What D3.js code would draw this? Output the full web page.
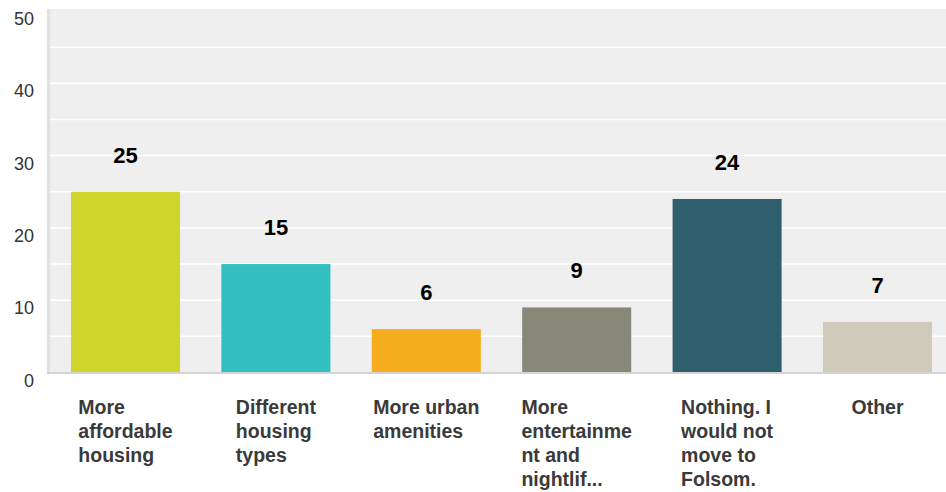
<!DOCTYPE html>
<html><head><meta charset="utf-8">
<script src="https://cdn.jsdelivr.net/npm/d3@7"></script>
<style>body{margin:0;background:#fff}svg{display:block}</style>
</head><body>
<svg id="c" width="946" height="492"></svg>
<script>
const categories = [
  ["More", "affordable", "housing"],
  ["Different", "housing", "types"],
  ["More urban", "amenities"],
  ["More", "entertainme", "nt and", "nightlif..."],
  ["Nothing. I", "would not", "move to", "Folsom."],
  ["Other"]
];
const values = [25, 15, 6, 9, 24, 7];
const colors = ["#cfd52b", "#33bec0", "#f6ae1f", "#87887a", "#2f5f6d", "#cecbbb"];
const yTicks = [0, 10, 20, 30, 40, 50];
const gridTicks = [5, 10, 15, 20, 25, 30, 35, 40, 45];

(function () {
const svg = d3.select("#c");
const pL = 50, pR = 946, pT = 9, pB = 372.5;
const x = d3.scaleBand().domain(d3.range(values.length)).range([50.3, 952.7]).paddingInner(0.275).paddingOuter(0.1375);
const y = d3.scaleLinear().domain([0, 50]).range([pB, 11]);

svg.append("rect").attr("x", pL).attr("y", pT).attr("width", pR - pL).attr("height", pB - pT).attr("fill", "#efefef");
svg.append("rect").attr("x", 47).attr("y", pT).attr("width", 3).attr("height", pB - pT + 2).attr("fill", "#e0e0e0");

svg.append("g").selectAll("line").data(gridTicks).join("line")
  .attr("x1", pL).attr("x2", pR).attr("y1", d => y(d)).attr("y2", d => y(d))
  .attr("stroke", "#fff").attr("stroke-width", 1.5);

svg.append("g").selectAll("text").data(yTicks).join("text")
  .attr("x", 34).attr("y", d => y(d) + 14).attr("text-anchor", "end")
  .attr("font-family", "Liberation Sans, Arial, sans-serif").attr("font-size", 18).attr("fill", "#333")
  .text(d => d);

svg.append("g").selectAll("rect").data(values).join("rect")
  .attr("x", (d, i) => x(i)).attr("width", x.bandwidth())
  .attr("y", d => y(d)).attr("height", d => y(0) - y(d))
  .attr("fill", (d, i) => colors[i]);

svg.append("line").attr("x1", 47).attr("x2", pR).attr("y1", pB + 0.5).attr("y2", pB + 0.5).attr("stroke", "#d4d4d4").attr("stroke-width", 2);

svg.append("g").selectAll("text").data(values).join("text")
  .attr("x", (d, i) => x(i) + x.bandwidth() / 2).attr("y", d => y(d) - 29)
  .attr("text-anchor", "middle").attr("font-family", "Liberation Sans, Arial, sans-serif")
  .attr("font-size", 22).attr("font-weight", "bold").attr("fill", "#000").text(d => d);

categories.forEach((lines, i) => {
  const t = svg.append("text").attr("font-family", "Liberation Sans, Arial, sans-serif")
    .attr("font-size", 19.5).attr("font-weight", "bold").attr("fill", "#3a3a3a");
  lines.forEach((l, j) => t.append("tspan").attr("y", 414 + j * 24).text(l));
  let maxW = 0;
  t.selectAll("tspan").each(function () { maxW = Math.max(maxW, this.getComputedTextLength()); });
  const cx = x(i) + x.bandwidth() / 2;
  t.selectAll("tspan").attr("x", cx - maxW / 2);
});
})();
</script>
</body></html>
